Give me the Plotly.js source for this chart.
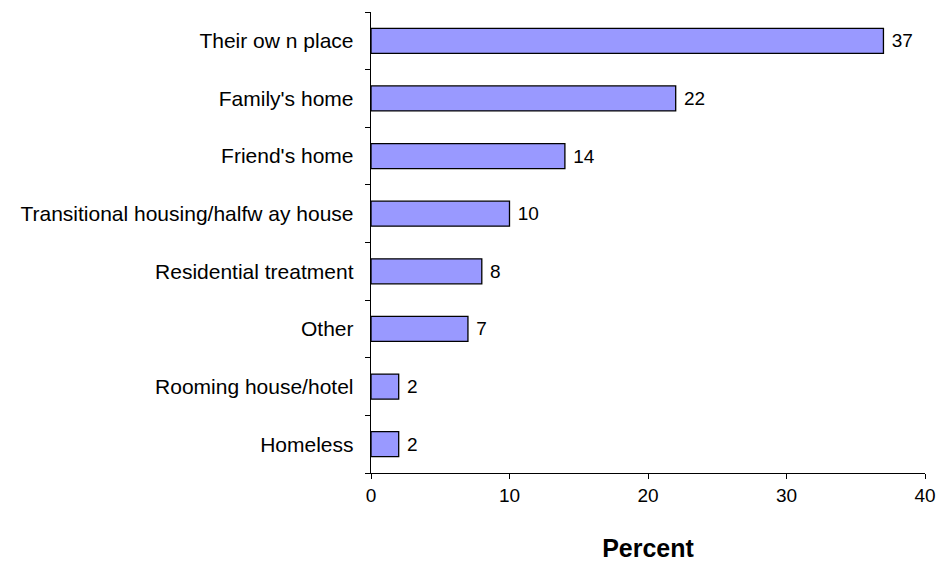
<!DOCTYPE html>
<html>
<head>
<meta charset="utf-8">
<script src="https://cdn.plot.ly/plotly-3.0.1.min.js"></script>
<style>html,body{margin:0;padding:0;background:#fff;}#chart{width:940px;height:563px;}</style>
</head>
<body>
<div id="chart"></div>
<script>
const categories = ["Their ow n place", "Family's home", "Friend's home", "Transitional housing/halfw ay house", "Residential treatment", "Other", "Rooming house/hotel", "Homeless"];
const percents = [37, 22, 14, 10, 8, 7, 2, 2];
const xTicks = [0, 10, 20, 30, 40];

const font = "Liberation Sans, Arial, sans-serif";

const trace = {
  type: "bar",
  orientation: "h",
  y: categories,
  x: percents,
  marker: {color: "#9999FF", line: {color: "#000000", width: 1.3}},
  text: percents.map(v => "\u00a0" + v),
  textposition: "outside",
  textfont: {family: font, size: 19, color: "#000"},
  cliponaxis: false,
  hoverinfo: "skip"
};

const layout = {
  width: 940, height: 563,
  margin: {l: 371, r: 15, t: 12, b: 90},
  paper_bgcolor: "#fff", plot_bgcolor: "#fff",
  showlegend: false,
  bargap: 0.565,
  font: {family: font, size: 18, color: "#000"},
  xaxis: {
    range: [0, 40],
    tickvals: xTicks,
    ticktext: xTicks.map(String),
    showgrid: false, zeroline: false,
    showline: true, linecolor: "#000", linewidth: 1.3,
    ticks: "outside", ticklen: 5, tickcolor: "#000",
    tickfont: {family: font, size: 19},
    title: {text: "<b>Percent</b>", font: {family: font, size: 25}, standoff: 34}
  },
  yaxis: {
    type: "category",
    categoryorder: "array",
    categoryarray: categories.slice().reverse(),
    autorange: false,
    range: [-0.5, categories.length - 0.5],
    tickson: "boundaries",
    showgrid: false, zeroline: false,
    showline: true, linecolor: "#000", linewidth: 1.3,
    ticks: "outside", ticklen: 5, tickcolor: "#000",
    ticklabelstandoff: 12,
    tickfont: {family: font, size: 21}
  }
};

Plotly.newPlot("chart", [trace], layout, {staticPlot: true, displayModeBar: false});
</script>
</body>
</html>
